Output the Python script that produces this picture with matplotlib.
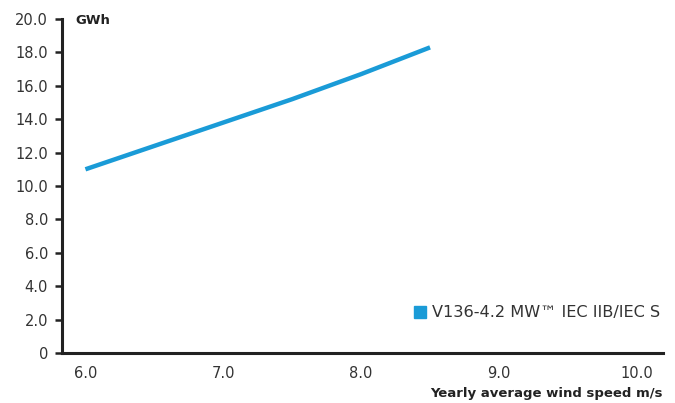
import matplotlib
matplotlib.use("Agg")
import matplotlib.pyplot as plt

wind_speed = [6.0, 6.5, 7.0, 7.5, 8.0, 8.5]
energy_gwh = [11.0, 12.4, 13.8, 15.2, 16.7, 18.3]
x_ticks = [6.0, 7.0, 8.0, 9.0, 10.0]
x_tick_labels = ["6.0", "7.0", "8.0", "9.0", "10.0"]
y_ticks = [0, 2, 4, 6, 8, 10, 12, 14, 16, 18, 20]
y_tick_labels = ["0", "2.0", "4.0", "6.0", "8.0", "10.0", "12.0", "14.0", "16.0", "18.0", "20.0"]
series_name = "V136-4.2 MW\u2122 IEC IIB/IEC S"

color = "#1a9bd7"
txt = "#333333"

fig = plt.figure(figsize=(6.75, 4.03), dpi=100)
W, H = 675, 403
ax = fig.add_axes([62 / W, 1 - 353 / H, (663 - 62) / W, (353 - 19) / H])

ax.plot(wind_speed, energy_gwh, color=color, lw=3.2, solid_capstyle="butt")

ax.set_xlim(5.83, 10.19)
ax.set_ylim(0, 20)
ax.set_xticks(x_ticks)
ax.set_xticklabels(x_tick_labels)
ax.set_yticks(y_ticks)
ax.set_yticklabels(y_tick_labels)
ax.tick_params(axis="x", length=0, pad=9, labelsize=10.5, labelcolor=txt)
ax.tick_params(axis="y", length=5, width=1.8, color="#222222", direction="out", pad=5, labelsize=10.5, labelcolor=txt)

for s in ["top", "right"]:
    ax.spines[s].set_visible(False)
for s in ["left", "bottom"]:
    ax.spines[s].set_linewidth(2.2)
    ax.spines[s].set_color("#222222")

fig.text(75 / W, 1 - 20 / H, "GWh", fontsize=9.5, fontweight="bold", color="#222222", va="center", ha="left")
fig.text(663 / W, 1 - 394 / H, "Yearly average wind speed m/s", fontsize=9.5, fontweight="bold",
         color="#222222", va="center", ha="right")

# legend
fig.patches.append(plt.Rectangle((414 / W, 1 - 318 / H), 12 / W, 12 / H, transform=fig.transFigure,
                                 color=color, figure=fig))
fig.text(432 / W, 1 - 312 / H, series_name, fontsize=11.6, color=txt, va="center", ha="left")

fig.savefig("out.png", dpi=100)
